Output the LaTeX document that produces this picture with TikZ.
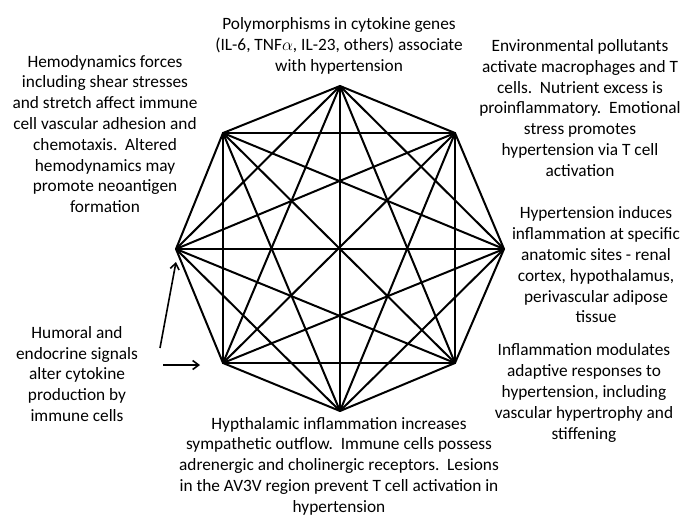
\documentclass[tikz,border=0pt]{standalone}
\usepackage{fontspec}
\setmainfont{Carlito}
\usetikzlibrary{arrows.meta}
\begin{document}
\begin{tikzpicture}[x=1pt,y=-1pt,
  edge/.style={line width=2pt,line cap=round,line join=round},
  pointer/.style={line width=1.6pt,-{Straight Barb[length=6pt,width=9pt]}},
  note/.style={align=center,inner sep=0pt,font=\fontsize{17.3}{20.8}\selectfont}]
\useasboundingbox (0,0) rectangle (683,516);
% octagon vertices
\coordinate (v1) at (340,86);
\coordinate (v2) at (455,133);
\coordinate (v3) at (504,249);
\coordinate (v4) at (455,363);
\coordinate (v5) at (340,411);
\coordinate (v6) at (223,363);
\coordinate (v7) at (176,249);
\coordinate (v8) at (223,133);
% every vertex joined to every other vertex
\foreach \i in {1,...,8}{
  \foreach \j in {1,...,8}{
    \ifnum\i<\j \draw[edge] (v\i) -- (v\j); \fi
  }
}
% text around the octagon
\node[note] (top) at (339,46) {Polymorphisms in cytokine genes\\(IL-6, TNF$\alpha$, IL-23, others) associate\\with hypertension};
\node[note] (tl) at (105,134) {Hemodynamics forces\\including shear stresses\\and stretch affect immune\\cell vascular adhesion and\\chemotaxis.\ \ Altered\\hemodynamics may\\promote neoantigen\\formation};
\node[note] (tr) at (580,108) {Environmental pollutants\\activate macrophages and T\\cells.\ \ Nutrient excess is\\proinflammatory.\ \ Emotional\\stress promotes\\hypertension via T cell\\activation};
\node[note] (r) at (596,265) {Hypertension induces\\inflammation at specific\\anatomic sites - renal\\cortex, hypothalamus,\\perivascular adipose\\tissue};
\node[note] (br) at (584,393) {Inflammation modulates\\adaptive responses to\\hypertension, including\\vascular hypertrophy and\\stiffening};
\node[note] (bl) at (77,374) {Humoral and\\endocrine signals\\alter cytokine\\production by\\immune cells};
\node[note] (b) at (339,466) {Hypthalamic inflammation increases\\sympathetic outflow.\ \ Immune cells possess\\adrenergic and cholinergic receptors.\ \ Lesions\\in the AV3V region prevent T cell activation in\\hypertension};
% signal arrows
\coordinate (a1s) at (160,348);
\coordinate (a1e) at (176,262);
\coordinate (a2s) at (163,365);
\coordinate (a2e) at (200,365);
\draw[pointer] (a1s) -- (a1e);
\draw[pointer] (a2s) -- (a2e);
\end{tikzpicture}
\end{document}
